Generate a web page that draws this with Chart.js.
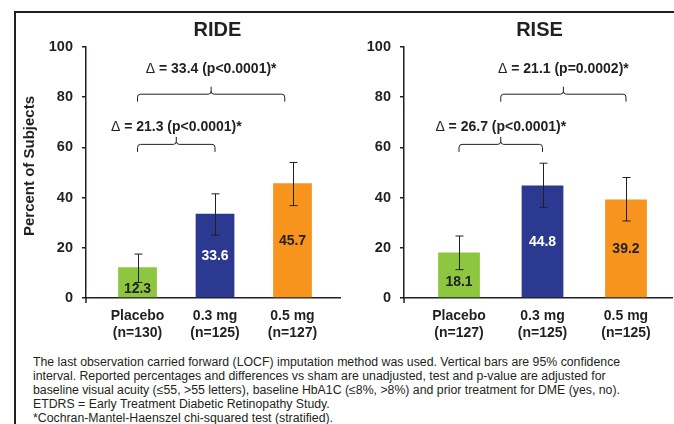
<!DOCTYPE html>
<html><head><meta charset="utf-8">
<script src="https://cdn.jsdelivr.net/npm/chart.js@4.4.1/dist/chart.umd.min.js"></script>
<style>
html,body{margin:0;padding:0;background:#fff;}
body{width:674px;height:424px;position:relative;overflow:hidden;font-family:"Liberation Sans",Arial,sans-serif;}
#frame{position:absolute;left:14px;top:11px;width:700px;height:460px;border-top:2px solid #231F20;border-left:2px solid #231F20;}
.wrap{position:absolute;top:0;height:340px;}
#w1{left:0;width:342px;}
#w2{left:342px;width:332px;}
#note{position:absolute;left:33px;top:356px;font-size:12.3px;line-height:13.9px;color:#231F20;white-space:nowrap;}
</style></head>
<body>
<div id="frame"></div>
<div class="wrap" id="w1"><canvas id="c1"></canvas></div>
<div class="wrap" id="w2"><canvas id="c2"></canvas></div>
<div id="note">The last observation carried forward (LOCF) imputation method was used. Vertical bars are 95% confidence<br>interval. Reported percentages and differences vs sham are unadjusted, test and p-value are adjusted for<br>baseline visual acuity (≤55, &gt;55 letters), baseline HbA1C (≤8%, &gt;8%) and prior treatment for DME (yes, no).<br>ETDRS = Early Treatment Diabetic Retinopathy Study.<br>*Cochran-Mantel-Haenszel chi-squared test (stratified).</div>
<script>
// ---- data ----
const categories = ['Placebo', '0.3 mg', '0.5 mg'];
const rideN = ['(n=130)', '(n=125)', '(n=127)'];
const riseN = ['(n=127)', '(n=125)', '(n=125)'];
const rideValues = [12.3, 33.6, 45.7];
const rideCILow = [6.2, 25.0, 36.8];
const rideCIHigh = [17.5, 41.5, 54.0];
const riseValues = [18.1, 44.8, 39.2];
const riseCILow = [11.3, 36.1, 30.7];
const riseCIHigh = [24.7, 53.7, 48.0];
const yTickValues = [0, 20, 40, 60, 80, 100];
const rideComparisons = [
  {from: 1, to: 2, delta: '21.3', p: 'p<0.0001'},
  {from: 1, to: 2.9, delta: '33.4', p: 'p<0.0001'}
];
const riseComparisons = [
  {from: 1, to: 2, delta: '26.7', p: 'p<0.0001'},
  {from: 1.5, to: 3, delta: '21.1', p: 'p=0.0002'}
];

// ---- styles ----
const dark = '#231F20';
const barColors = ['#8DC63F', '#2B3990', '#F7941D'];
const labelColors = [dark, '#FFFFFF', dark];
const bracketLevels = [{line: 61.2, text: 68.2}, {line: 81.2, text: 91.2}];
const FAM = '"Liberation Sans", Arial, sans-serif';
Chart.defaults.font.family = FAM;
Chart.defaults.color = dark;

function drawBracket(ctx, x1, x2, yl, drop, nub) {
  const r = 3, xm = (x1 + x2) / 2;
  ctx.beginPath();
  ctx.moveTo(x1, yl + drop);
  ctx.lineTo(x1, yl + r);
  ctx.quadraticCurveTo(x1, yl, x1 + r, yl);
  ctx.lineTo(xm - r, yl);
  ctx.quadraticCurveTo(xm, yl, xm, yl - r);
  ctx.lineTo(xm, yl - nub);
  ctx.moveTo(xm, yl - r);
  ctx.quadraticCurveTo(xm, yl, xm + r, yl);
  ctx.lineTo(x2 - r, yl);
  ctx.quadraticCurveTo(x2, yl, x2, yl + r);
  ctx.lineTo(x2, yl + drop);
  ctx.stroke();
}

function extrasPlugin(cfg) {
  return {
    id: 'extras',
    afterDatasetsDraw(chart) {
      const ctx = chart.ctx, xs = chart.scales.x, ys = chart.scales.y;
      ctx.save();
      ctx.strokeStyle = dark; ctx.lineWidth = 1;
      cfg.values.forEach((v, i) => {
        const px = Math.round(xs.getPixelForValue(i + 1)) + 0.5;
        const lo = ys.getPixelForValue(cfg.low[i]), hi = ys.getPixelForValue(cfg.high[i]);
        ctx.beginPath();
        ctx.moveTo(px, lo); ctx.lineTo(px, hi);
        ctx.moveTo(px - 4, lo); ctx.lineTo(px + 4, lo);
        ctx.moveTo(px - 4, hi); ctx.lineTo(px + 4, hi);
        ctx.stroke();
      });
      ctx.font = 'bold 14px ' + FAM;
      ctx.textAlign = 'center'; ctx.textBaseline = 'middle';
      cfg.values.forEach((v, i) => {
        const px = xs.getPixelForValue(i + 1);
        let py = ys.getPixelForValue(v / 2);
        if (v < 20) py += 7;
        ctx.fillStyle = labelColors[i];
        ctx.fillText(v.toFixed(1), px, py);
      });
      ctx.restore();
    },
    afterDraw(chart) {
      const ctx = chart.ctx, xs = chart.scales.x, ys = chart.scales.y, ca = chart.chartArea;
      ctx.save();
      ctx.strokeStyle = dark; ctx.fillStyle = dark;
      ctx.lineWidth = 1.5;
      ctx.beginPath();
      ctx.moveTo(ca.left, ca.bottom); ctx.lineTo(ca.left, ca.bottom + 5);
      ctx.stroke();
      ctx.lineWidth = 1;
      cfg.comparisons.forEach((c, i) => {
        const x1 = xs.getPixelForValue(c.from), x2 = xs.getPixelForValue(c.to);
        const lv = bracketLevels[i];
        drawBracket(ctx, x1, x2, ys.getPixelForValue(lv.line), 7.5, 7.5);
        const cx = (x1 + x2) / 2, ty = ys.getPixelForValue(lv.text);
        const rest = ' = ' + c.delta + ' (' + c.p + ')*';
        ctx.textBaseline = 'middle'; ctx.textAlign = 'left';
        ctx.font = '14px ' + FAM;
        const w1 = ctx.measureText('\u0394').width;
        ctx.font = 'bold 14px ' + FAM;
        const w2 = ctx.measureText(rest).width;
        const sx = cx - (w1 + w2) / 2;
        ctx.font = '14px ' + FAM;
        ctx.fillText('\u0394', sx, ty);
        ctx.font = 'bold 14px ' + FAM;
        ctx.fillText(rest, sx + w1, ty);
      });
      ctx.font = 'bold 20px ' + FAM;
      ctx.textAlign = 'center'; ctx.textBaseline = 'middle';
      ctx.fillText(cfg.title, xs.getPixelForValue(2) + cfg.titleShift, 30);
      if (cfg.yTitle) {
        ctx.translate(30, 166);
        ctx.rotate(-Math.PI / 2);
        ctx.font = 'bold 15px ' + FAM;
        ctx.fillText(cfg.yTitle, 0, 0);
      }
      ctx.restore();
    }
  };
}

function makeChart(id, cfg) {
  return new Chart(document.getElementById(id), {
    type: 'bar',
    data: {
      datasets: [{
        data: cfg.values.map((v, i) => ({x: i + 1, y: v})),
        backgroundColor: barColors,
        borderWidth: 0,
        barPercentage: 0.5,
        categoryPercentage: 1.0
      }]
    },
    options: {
      responsive: true,
      maintainAspectRatio: false,
      animation: false,
      layout: {padding: {left: 0, right: 2, top: 47, bottom: 0}},
      plugins: {legend: {display: false}, tooltip: {enabled: false}, title: {display: false}},
      scales: {
        x: {
          type: 'linear',
          offset: false,
          min: cfg.xMin, max: cfg.xMax,
          grid: {display: false, offset: false},
          border: {display: true, color: dark, width: 1.5},
          afterBuildTicks: s => { s.ticks = categories.map((c, i) => ({value: i + 1})); },
          afterFit: s => { s.height = 42; },
          ticks: {
            autoSkip: false, maxRotation: 0, padding: 2,
            font: {size: 14, weight: 'bold', lineHeight: 1.2},
            color: dark,
            callback: (v, i) => [categories[i], cfg.n[i]]
          }
        },
        y: {
          min: 0, max: 100,
          afterBuildTicks: s => { s.ticks = yTickValues.map(v => ({value: v})); },
          afterFit: s => { s.width = cfg.yWidth; },
          grid: {drawOnChartArea: false, drawTicks: true, tickLength: 4, color: dark, lineWidth: 1.5},
          border: {display: true, color: dark, width: 1.5},
          ticks: {padding: 9, font: {size: 14.5, weight: 'bold'}, color: dark}
        }
      }
    },
    plugins: [extrasPlugin(cfg)]
  });
}

makeChart('c1', {
  values: rideValues, low: rideCILow, high: rideCIHigh, n: rideN,
  comparisons: rideComparisons, title: 'RIDE', titleShift: 2.5, yTitle: 'Percent of Subjects',
  xMin: 0.335, xMax: 3.613, yWidth: 86
});
makeChart('c2', {
  values: riseValues, low: riseCILow, high: riseCIHigh, n: riseN,
  comparisons: riseComparisons, title: 'RISE', titleShift: -3, yTitle: null,
  xMin: 0.341, xMax: 3.551, yWidth: 62
});
</script>
</body></html>
